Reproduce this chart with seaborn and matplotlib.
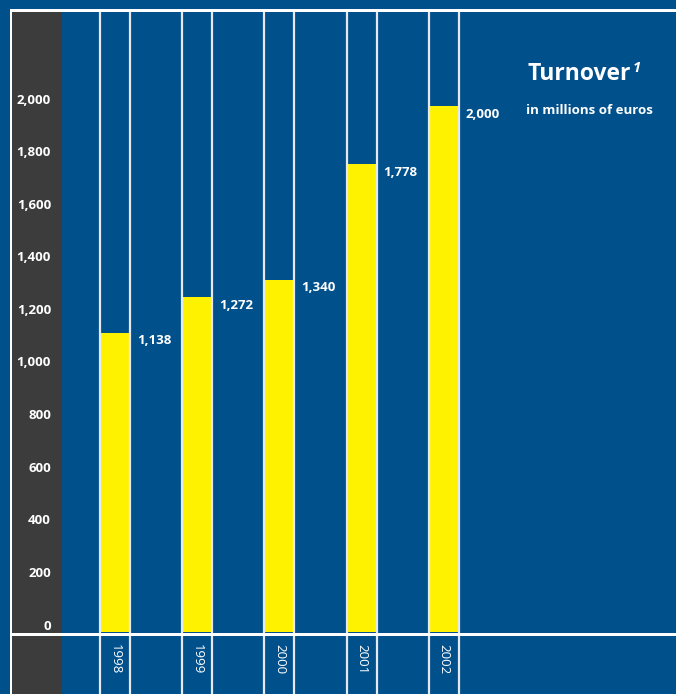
import matplotlib
matplotlib.use("Agg")
import matplotlib.pyplot as plt
import matplotlib.transforms as mtransforms
from matplotlib.patches import Rectangle
import seaborn as sns
import pandas as pd

# Turnover in millions of euros
years = ["1998", "1999", "2000", "2001", "2002"]
turnover = [1138, 1272, 1340, 1778, 2000]
value_labels = ["1,138", "1,272", "1,340", "1,778", "2,000"]
tick_values = [0, 200, 400, 600, 800, 1000, 1200, 1400, 1600, 1800, 2000]
tick_labels = ["0", "200", "400", "600", "800", "1,000", "1,200", "1,400",
               "1,600", "1,800", "2,000"]

BLUE = "#00508C"
GREY = "#3C3C3C"
YELLOW = "#FFF200"
LINE = "#E6EAF0"

W, H = 676, 694
sns.set_theme(style="white")
plt.rcParams["font.family"] = ["Open Sans", "DejaVu Sans"]

fig = plt.figure(figsize=(W / 100, H / 100), dpi=100, facecolor=BLUE)
ax = fig.add_axes([0, 0, 1, 1])
ax.set_facecolor(BLUE)
for s in ax.spines.values():
    s.set_visible(False)

df = pd.DataFrame({"year": years, "turnover": turnover})
bar_w = 0.365
sns.barplot(data=df, x="year", y="turnover", color=YELLOW, saturation=1,
            width=bar_w, ax=ax, zorder=3, linewidth=0)

# scale: category spacing 82.2 px, first centre at x=115 px; zero at row 632
px_per_cat = 82.2
x0_px = 115
ax.set_xlim((0 - x0_px) / px_per_cat, (W - x0_px) / px_per_cat)
units_per_px = 2000 / (632 - 106)
ax.set_ylim(-(H - 632) * units_per_px, 632 * units_per_px)
ax.set_xticks([])
ax.set_yticks([])
ax.set_xlabel("")
ax.set_ylabel("")


def prect(x, y, w, h, color, z):
    """Rectangle given in pixels measured from the top-left corner."""
    r = Rectangle((x, H - y - h), w, h, transform=None, facecolor=color,
                  edgecolor="none", zorder=z)
    ax.add_artist(r)


prect(12, 12, 50, H - 12, GREY, 2)          # left label strip
prect(10, 9, W - 10, 3, "white", 6)         # top frame line
prect(10, 9, 2, H - 9, "white", 6)          # left frame line
prect(12, 633, W - 12, 3, "white", 6)       # baseline

# vertical rules at each bar edge, running from the top frame to the bottom
for i in range(len(years)):
    for edge in (i - bar_w / 2, i + bar_w / 2):
        ax.axvline(edge, ymin=0, ymax=(H - 12) / H, color=LINE, lw=1.6,
                   zorder=5)

# y tick labels in the grey strip
ytrans = mtransforms.blended_transform_factory(
    mtransforms.Affine2D(), ax.transData)
for v, lab in zip(tick_values, tick_labels):
    ax.text(51, v + 6 * units_per_px, lab, transform=ytrans, ha="right",
            va="center", color="white", fontsize=9.5, fontweight="bold",
            zorder=7)

# value labels beside each bar
for i, (v, lab) in enumerate(zip(turnover, value_labels)):
    ax.annotate(lab, xy=(i + bar_w / 2, v), xytext=(7, -8),
                textcoords="offset pixels", ha="left", va="center",
                color="white", fontsize=9.5, fontweight="bold", zorder=7)

# year labels in the bottom strip
for i, y in enumerate(years):
    ax.text(i, -(659 - 632) * units_per_px, y, ha="center", va="center",
            rotation=270, color="white", fontsize=9.5, zorder=7)

# title
fig.text(527 / W, 1 - 74 / H, "Turnover", ha="left", va="center",
         color="white", fontsize=16.5, fontweight="bold")
fig.text(633 / W, 1 - 68 / H, "1", ha="left", va="center", color="white",
         fontsize=10.5, fontweight="bold", fontstyle="italic")
fig.text(526 / W, 1 - 110 / H, "in millions of euros", ha="left",
         va="center", color="white", fontsize=9.5, fontweight="bold")

fig.savefig("out.png", dpi=100, facecolor=BLUE)
